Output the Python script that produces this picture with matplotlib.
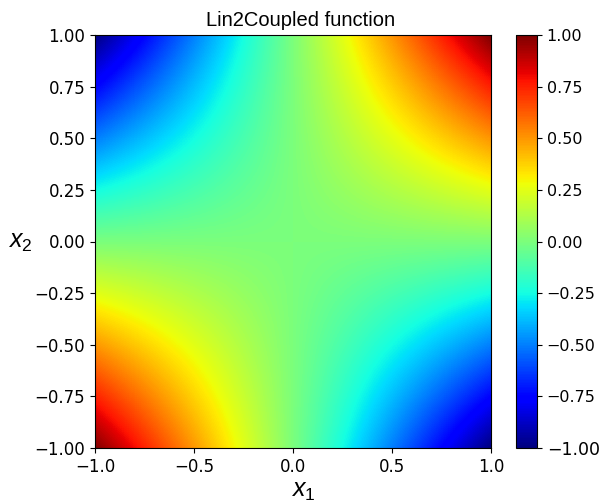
import numpy as np
import matplotlib
matplotlib.use("Agg")
import matplotlib.pyplot as plt

plt.rcParams['mathtext.fontset'] = 'custom'
plt.rcParams['mathtext.rm'] = 'Liberation Sans'
plt.rcParams['mathtext.it'] = 'Liberation Sans:italic'

# grid nodes (x1 across, x2 up)
x1_nodes = [-1.0, -0.5, 0.0, 0.5, 1.0]
x2_nodes = [-1.0, -0.5, 0.0, 0.5, 1.0]
# value at each node, rows go from x2=-1 (bottom) to x2=1 (top)
z_rows = [
    [1.0, 0.5, 0.0, -0.5, -1.0],
    [0.5, 0.25, 0.0, -0.25, -0.5],
    [0.0, 0.0, 0.0, 0.0, 0.0],
    [-0.5, -0.25, 0.0, 0.25, 0.5],
    [-1.0, -0.5, 0.0, 0.5, 1.0],
]
x_ticks = [-1.0, -0.5, 0.0, 0.5, 1.0]
y_ticks = [-1.0, -0.75, -0.5, -0.25, 0.0, 0.25, 0.5, 0.75, 1.0]
cbar_ticks = [-1.0, -0.75, -0.5, -0.25, 0.0, 0.25, 0.5, 0.75, 1.0]

fig = plt.figure(figsize=(6.01, 5.03), dpi=100)
ax = fig.add_axes([95 / 601, 55 / 503, 396 / 601, 413 / 503])
cax = fig.add_axes([516 / 601, 55 / 503, 21 / 601, 413 / 503])

dx = (x1_nodes[1] - x1_nodes[0]) / 2
dy = (x2_nodes[1] - x2_nodes[0]) / 2
im = ax.imshow(np.array(z_rows), origin='lower', cmap='jet', vmin=-1, vmax=1,
               interpolation='bilinear', aspect='auto',
               extent=[x1_nodes[0] - dx, x1_nodes[-1] + dx,
                       x2_nodes[0] - dy, x2_nodes[-1] + dy])
ax.set_xlim(-1, 1)
ax.set_ylim(-1, 1)
ax.set_xticks(x_ticks)
ax.set_yticks(y_ticks)
ax.tick_params(labelsize=12)
fig.text(0.5, (503 - 26) / 503, "Lin2Coupled function", family='Liberation Sans',
         fontsize=14.5, ha='center', va='baseline')
ax.set_xlabel("$x_1$", fontsize=18)
ax.xaxis.set_label_coords(0.525, -0.075)
ax.set_ylabel("$x_2$", fontsize=18, rotation=0, va='center', labelpad=10)

cb = fig.colorbar(im, cax=cax, ticks=cbar_ticks)
cb.ax.tick_params(labelsize=11.5)
cb.ax.get_yticklabels()[0].set_fontsize(12.5)

fig.savefig("out.png", dpi=100)
plt.close()
